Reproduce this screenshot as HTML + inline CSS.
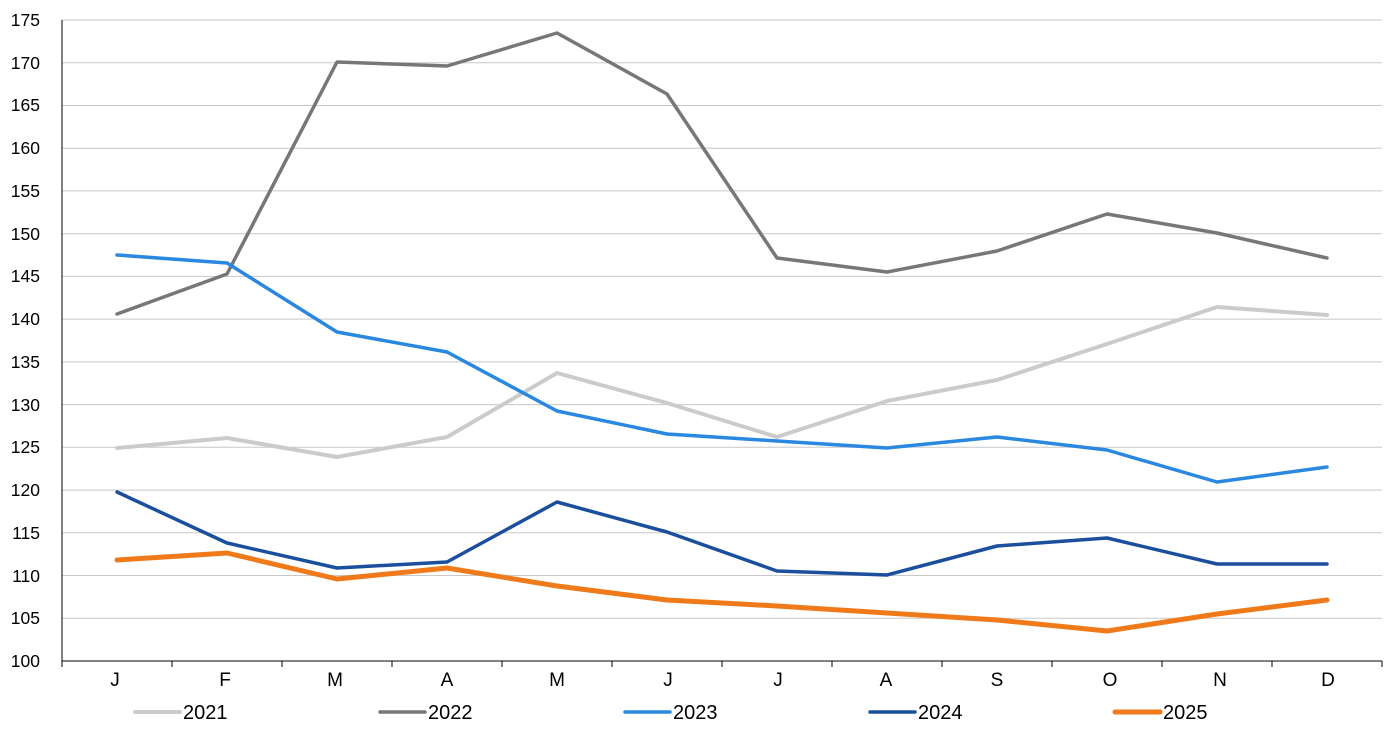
<!DOCTYPE html>
<html><head><meta charset="utf-8"><style>
html,body{margin:0;padding:0;background:#fff;}
svg text{font-family:"Liberation Sans",Arial,sans-serif;font-size:17.5px;fill:#000;}
</style></head><body>
<svg width="1400" height="745" viewBox="0 0 1400 745" xmlns="http://www.w3.org/2000/svg">
<g stroke="#c8c8c8" stroke-width="1">
<line x1="62" x2="1382" y1="20" y2="20"/>
<line x1="62" x2="1382" y1="62.7" y2="62.7"/>
<line x1="62" x2="1382" y1="105.5" y2="105.5"/>
<line x1="62" x2="1382" y1="148.2" y2="148.2"/>
<line x1="62" x2="1382" y1="190.9" y2="190.9"/>
<line x1="62" x2="1382" y1="233.7" y2="233.7"/>
<line x1="62" x2="1382" y1="276.4" y2="276.4"/>
<line x1="62" x2="1382" y1="319.1" y2="319.1"/>
<line x1="62" x2="1382" y1="361.9" y2="361.9"/>
<line x1="62" x2="1382" y1="404.6" y2="404.6"/>
<line x1="62" x2="1382" y1="447.3" y2="447.3"/>
<line x1="62" x2="1382" y1="490.1" y2="490.1"/>
<line x1="62" x2="1382" y1="532.8" y2="532.8"/>
<line x1="62" x2="1382" y1="575.5" y2="575.5"/>
<line x1="62" x2="1382" y1="618.3" y2="618.3"/>
</g>
<g stroke="#000" stroke-width="1">
<line x1="62" x2="62" y1="20" y2="661"/>
<line x1="62" x2="1382" y1="661" y2="661"/>
<line x1="62" x2="62" y1="661" y2="667"/><line x1="172" x2="172" y1="661" y2="667"/><line x1="282" x2="282" y1="661" y2="667"/><line x1="392" x2="392" y1="661" y2="667"/><line x1="502" x2="502" y1="661" y2="667"/><line x1="612" x2="612" y1="661" y2="667"/><line x1="722" x2="722" y1="661" y2="667"/><line x1="832" x2="832" y1="661" y2="667"/><line x1="942" x2="942" y1="661" y2="667"/><line x1="1052" x2="1052" y1="661" y2="667"/><line x1="1162" x2="1162" y1="661" y2="667"/><line x1="1272" x2="1272" y1="661" y2="667"/><line x1="1382" x2="1382" y1="661" y2="667"/>
</g>
<g text-anchor="end">
<text x="40" y="26">175</text><text x="40" y="69">170</text><text x="40" y="111">165</text><text x="40" y="154">160</text><text x="40" y="197">155</text><text x="40" y="240">150</text><text x="40" y="282">145</text><text x="40" y="325">140</text><text x="40" y="368">135</text><text x="40" y="411">130</text><text x="40" y="453">125</text><text x="40" y="496">120</text><text x="40" y="539">115</text><text x="40" y="582">110</text><text x="40" y="624">105</text><text x="40" y="667">100</text>
</g>
<g text-anchor="middle" style="font-size:19px">
<text x="115" y="686" style="font-size:19px">J</text><text x="225" y="686" style="font-size:19px">F</text><text x="335" y="686" style="font-size:19px">M</text><text x="447" y="686" style="font-size:19px">A</text><text x="557" y="686" style="font-size:19px">M</text><text x="668" y="686" style="font-size:19px">J</text><text x="778" y="686" style="font-size:19px">J</text><text x="886" y="686" style="font-size:19px">A</text><text x="997" y="686" style="font-size:19px">S</text><text x="1110" y="686" style="font-size:19px">O</text><text x="1220" y="686" style="font-size:19px">N</text><text x="1328" y="686" style="font-size:19px">D</text>
</g>
<g fill="none" stroke-linejoin="round" stroke-linecap="round">
<polyline stroke="#cbcbcb" stroke-width="4" points="117,448 227,438 337,457 447,437 557,373 667,403 777,437 887,401 997,380 1107,344 1217,307 1327,315"/>
<polyline stroke="#777" stroke-width="3.5" points="117,314 227,274 337,62 447,66 557,33 667,94 777,258 887,272 997,251 1107,214 1217,233 1327,258"/>
<polyline stroke="#2a88e0" stroke-width="3.5" points="117,255 227,263 337,332 447,352 557,411 667,434 777,441 887,448 997,437 1107,450 1217,482 1327,467"/>
<polyline stroke="#1b4f9e" stroke-width="3.5" points="117,492 227,543 337,568 447,562 557,502 667,532 777,571 887,575 997,546 1107,538 1217,564 1327,564"/>
<polyline stroke="#f07a1a" stroke-width="5" points="117,560 227,553 337,579 447,568 557,586 667,600 777,606 887,613 997,620 1107,631 1217,614 1327,600"/>
<line x1="135" x2="180" y1="712" y2="712" stroke="#cbcbcb" stroke-width="4"/>
<line x1="380" x2="425" y1="712" y2="712" stroke="#777" stroke-width="3.5"/>
<line x1="625" x2="670" y1="712" y2="712" stroke="#2a88e0" stroke-width="3.5"/>
<line x1="870" x2="915" y1="712" y2="712" stroke="#1b4f9e" stroke-width="3.5"/>
<line x1="1115" x2="1160" y1="712" y2="712" stroke="#f07a1a" stroke-width="5"/>
</g>
<text x="183" y="719" style="font-size:20px">2021</text>
<text x="428" y="719" style="font-size:20px">2022</text>
<text x="673" y="719" style="font-size:20px">2023</text>
<text x="918" y="719" style="font-size:20px">2024</text>
<text x="1163" y="719" style="font-size:20px">2025</text>
</svg>
</body></html>
